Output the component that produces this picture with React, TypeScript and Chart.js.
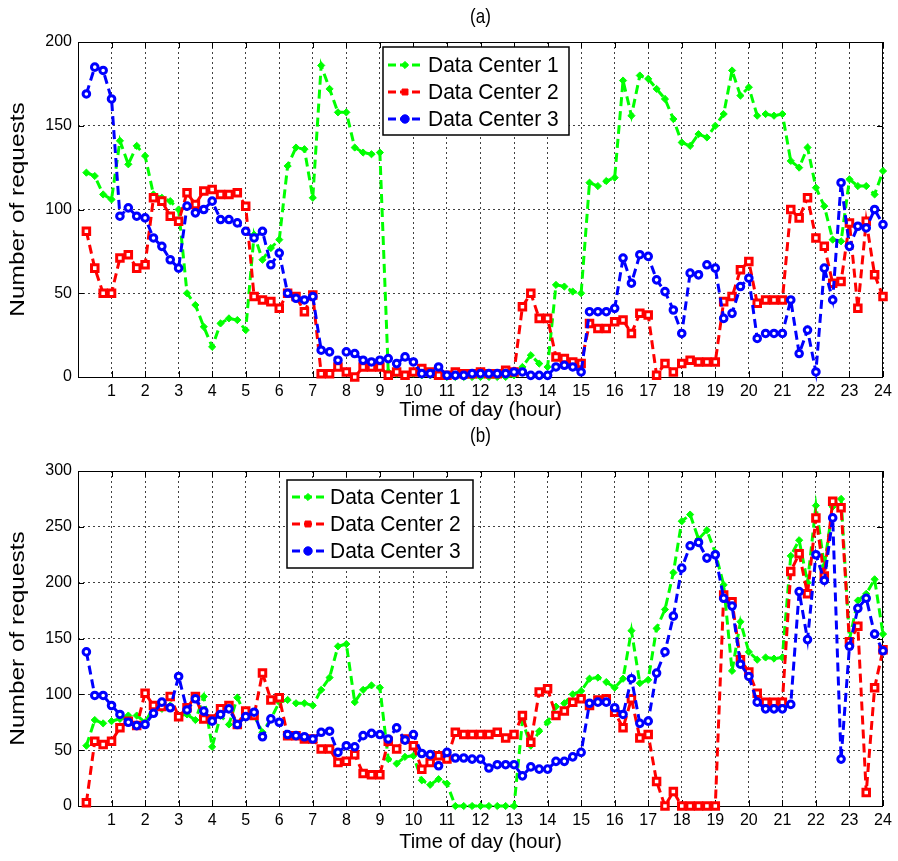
import React, { useEffect, useRef } from 'react';
import { Chart, registerables } from 'chart.js';
import { drawPoint } from 'chart.js/helpers';

Chart.register(...registerables);

// Sample times (hour of day), every 15 minutes
const TIMES = [
  0.25, 0.5, 0.75, 1, 1.25, 1.5, 1.75, 2, 2.25, 2.5, 2.75, 3,
  3.25, 3.5, 3.75, 4, 4.25, 4.5, 4.75, 5, 5.25, 5.5, 5.75, 6,
  6.25, 6.5, 6.75, 7, 7.25, 7.5, 7.75, 8, 8.25, 8.5, 8.75, 9,
  9.25, 9.5, 9.75, 10, 10.25, 10.5, 10.75, 11, 11.25, 11.5, 11.75, 12,
  12.25, 12.5, 12.75, 13, 13.25, 13.5, 13.75, 14, 14.25, 14.5, 14.75, 15,
  15.25, 15.5, 15.75, 16, 16.25, 16.5, 16.75, 17, 17.25, 17.5, 17.75, 18,
  18.25, 18.5, 18.75, 19, 19.25, 19.5, 19.75, 20, 20.25, 20.5, 20.75, 21,
  21.25, 21.5, 21.75, 22, 22.25, 22.5, 22.75, 23, 23.25, 23.5, 23.75, 24,
];

const SERIES_LABELS = ['Data Center 1', 'Data Center 2', 'Data Center 3'];
const X_TITLE = 'Time of day (hour)';
const Y_TITLE = 'Number of requests';

// (a)
const A_DC1 = [
  122, 120, 109, 106, 141, 127, 138, 132, 109, 107, 105, 100,
  50, 43, 30, 18, 32, 35, 34, 28, 85, 70, 77, 82,
  126, 137, 136, 107, 186, 172, 158, 158, 137, 134, 133, 134,
  3, 2, 1, 2, 1, 1, 1, 0, 0, 0, 0, 0,
  0, 0, 0, 1, 6, 13, 8, 6, 55, 54, 51, 50,
  116, 114, 117, 119, 177, 156, 180, 178, 172, 166, 154, 140,
  138, 145, 143, 150, 157, 183, 168, 173, 156, 157, 156, 157,
  129, 125, 137, 113, 102, 82, 81, 118, 114, 114, 109, 123,
];
const A_DC2 = [
  87, 65, 50, 50, 71, 73, 65, 67, 107, 105, 96, 93,
  110, 103, 111, 112, 109, 109, 110, 102, 48, 46, 45, 41,
  50, 48, 39, 49, 2, 2, 6, 3, 0, 6, 6, 6,
  1, 3, 1, 3, 5, 3, 1, 1, 3, 2, 2, 3,
  2, 2, 4, 3, 42, 50, 35, 35, 12, 11, 9, 8,
  32, 29, 29, 33, 34, 26, 38, 37, 1, 8, 3, 8,
  10, 9, 9, 9, 45, 48, 64, 69, 44, 46, 46, 46,
  100, 95, 107, 83, 78, 56, 57, 92, 41, 93, 61, 48,
];
const A_DC3 = [
  169, 185, 183, 166, 96, 101, 96, 95, 83, 78, 70, 65,
  102, 98, 100, 105, 94, 94, 92, 87, 83, 87, 67, 74,
  50, 47, 46, 48, 16, 15, 10, 15, 14, 10, 9, 10,
  11, 8, 12, 9, 2, 2, 6, 1, 1, 1, 2, 2,
  2, 2, 2, 3, 3, 1, 1, 1, 6, 7, 6, 3,
  39, 39, 39, 41, 71, 56, 73, 72, 58, 51, 40, 26,
  62, 61, 67, 65, 35, 38, 54, 59, 23, 26, 26, 26,
  46, 14, 28, 3, 65, 46, 116, 78, 90, 89, 100, 91,
];

// (b)
const B_DC1 = [
  54, 77, 74, 76, 78, 81, 81, 75, 88, 87, 90, 81,
  82, 77, 98, 53, 81, 73, 97, 81, 81, 66, 78, 93,
  95, 92, 92, 90, 104, 115, 143, 145, 93, 104, 108, 106,
  42, 38, 44, 45, 23, 19, 24, 20, 0, 0, 0, 0,
  0, 0, 0, 0, 76, 54, 67, 75, 89, 92, 100, 103,
  114, 115, 111, 106, 114, 157, 110, 113, 159, 176, 209, 255,
  261, 239, 247, 227, 198, 121, 165, 138, 131, 133, 132, 133,
  224, 238, 200, 269, 215, 268, 275, 149, 184, 190, 203, 154,
];
const B_DC2 = [
  3, 58, 55, 58, 70, 76, 72, 101, 90, 89, 98, 80,
  88, 98, 78, 78, 87, 90, 73, 85, 81, 119, 95, 97,
  63, 63, 60, 60, 51, 51, 39, 40, 46, 29, 28, 28,
  58, 51, 60, 54, 33, 39, 45, 42, 66, 64, 64, 64,
  64, 66, 61, 64, 81, 57, 102, 105, 81, 85, 93, 96,
  90, 95, 96, 84, 70, 96, 61, 64, 22, 0, 13, 0,
  0, 0, 0, 0, 189, 183, 131, 120, 101, 93, 93, 93,
  210, 226, 190, 258, 206, 273, 267, 147, 161, 12, 106, 140,
];
const B_DC3 = [
  138, 99, 99, 90, 82, 75, 72, 73, 83, 93, 88, 116,
  86, 96, 85, 76, 82, 87, 73, 80, 84, 62, 78, 75,
  64, 63, 62, 60, 66, 67, 48, 54, 53, 63, 65, 64,
  60, 70, 59, 64, 47, 46, 36, 48, 43, 43, 42, 42,
  34, 37, 37, 37, 27, 35, 33, 33, 40, 40, 44, 48,
  92, 93, 93, 88, 82, 114, 74, 76, 119, 138, 170, 213,
  233, 236, 222, 225, 186, 179, 127, 116, 93, 87, 87, 87,
  91, 192, 149, 225, 202, 258, 42, 143, 177, 186, 154, 139,
];

const FONT = '"Liberation Sans", Arial, Helvetica, sans-serif';
const COLORS = ['#00ff00', '#ff0000', '#0000ff'];
const POINT_STYLES = ['rectRot', 'rect', 'circle'];
const POINT_RADII = [3.6, 4.6, 3.3];
const POINT_BORDER = [1, 3, 3];
const POINT_FILL = ['#00ff00', '#ffffff', '#ffffff'];
const DASH = [9, 5];

function makeDatasets(series: number[][]) {
  return series.map((vals, i) => ({
    label: SERIES_LABELS[i],
    data: TIMES.map((t, k) => ({ x: t, y: vals[k] })),
    borderColor: COLORS[i],
    backgroundColor: POINT_FILL[i],
    pointBackgroundColor: POINT_FILL[i],
    pointBorderColor: COLORS[i],
    pointStyle: POINT_STYLES[i],
    pointRadius: POINT_RADII[i],
    pointBorderWidth: POINT_BORDER[i],
    borderWidth: 3,
    borderDash: DASH,
    tension: 0,
    fill: false,
    clip: false,
    order: 2 - i,
  }));
}

const framePlugin = {
  id: 'frame',
  beforeDatasetsDraw(chart: any) {
    const { ctx, chartArea } = chart;
    const { left, right, top, bottom } = chartArea;
    const xs = chart.scales.x;
    const ys = chart.scales.y;
    ctx.save();
    ctx.setLineDash([]);
    ctx.strokeStyle = '#000';
    ctx.lineWidth = 1;
    ctx.strokeRect(left + 0.5, top + 0.5, right - left - 1, bottom - top);
    ctx.beginPath();
    xs.ticks.forEach((t: any) => {
      const px = Math.round(xs.getPixelForValue(t.value)) + 0.5;
      ctx.moveTo(px, bottom);
      ctx.lineTo(px, bottom - 6);
      ctx.moveTo(px, top);
      ctx.lineTo(px, top + 6);
    });
    ys.ticks.forEach((t: any) => {
      const py = Math.round(ys.getPixelForValue(t.value)) + 0.5;
      ctx.moveTo(left, py);
      ctx.lineTo(left + 6, py);
      ctx.moveTo(right, py);
      ctx.lineTo(right - 6, py);
    });
    ctx.stroke();
    ctx.restore();
  },
  afterDraw(chart: any, _args: any, opts: any) {
    const { ctx, chartArea } = chart;
    // panel title, centred over the plot area
    ctx.save();
    ctx.fillStyle = '#000';
    ctx.font = `17px ${FONT}`;
    ctx.textAlign = 'center';
    ctx.textBaseline = 'middle';
    ctx.translate((chartArea.left + chartArea.right) / 2, opts.titleY);
    ctx.scale(1, 1.15);
    ctx.fillText(opts.title, 0, 0);
    ctx.restore();
    // y-axis title (slightly stretched along its length, like the source figure)
    const cy = (chartArea.top + chartArea.bottom) / 2;
    ctx.save();
    ctx.translate(18, cy);
    ctx.rotate(-Math.PI / 2);
    ctx.scale(1.22, 1);
    ctx.fillStyle = '#000';
    ctx.font = `20px ${FONT}`;
    ctx.textAlign = 'center';
    ctx.textBaseline = 'middle';
    ctx.fillText(Y_TITLE, 0, 0);
    ctx.restore();
  },
};

const boxLegendPlugin = {
  id: 'boxLegend',
  afterDraw(chart: any, _args: any, opts: any) {
    const { ctx } = chart;
    const { x, y, w, h, first, step, lineLen, textGap } = opts;
    ctx.save();
    ctx.setLineDash([]);
    ctx.fillStyle = '#ffffff';
    ctx.fillRect(x, y, w, h);
    ctx.strokeStyle = '#000';
    ctx.lineWidth = 1.5;
    ctx.strokeRect(x, y, w, h);
    chart.data.datasets.forEach((ds: any, i: number) => {
      const cy = y + first + step * i;
      const x0 = x + 5;
      ctx.save();
      ctx.strokeStyle = ds.borderColor;
      ctx.lineWidth = 3;
      ctx.setLineDash([8, 4]);
      ctx.beginPath();
      ctx.moveTo(x0, cy);
      ctx.lineTo(x0 + lineLen, cy);
      ctx.stroke();
      ctx.setLineDash([]);
      ctx.fillStyle = ds.borderColor;
      ctx.strokeStyle = ds.borderColor;
      ctx.lineWidth = 1;
      drawPoint(ctx, { pointStyle: ds.pointStyle, radius: i === 0 ? 3.6 : 4.2, rotation: 0, borderWidth: 1 }, x0 + lineLen / 2, cy);
      ctx.restore();
      ctx.save();
      ctx.fillStyle = '#000';
      ctx.font = `20px ${FONT}`;
      ctx.textBaseline = 'middle';
      ctx.textAlign = 'left';
      ctx.translate(x0 + lineLen + textGap, cy + 1);
      ctx.scale(1.05, 1.1);
      ctx.fillText(ds.label, 0, 0);
      ctx.restore();
    });
    ctx.restore();
  },
};

function makeConfig(
  title: string,
  series: number[][],
  yMax: number,
  topPad: number,
  titleY: number,
  xAxisHeight: number,
  xTitlePadBottom: number,
  legend: any
): any {
  return {
    type: 'line',
    data: { datasets: makeDatasets(series) },
    plugins: [framePlugin, boxLegendPlugin],
    options: {
      animation: false,
      responsive: false,
      maintainAspectRatio: false,
      devicePixelRatio: 1,
      layout: { padding: { left: 0, right: 15, top: topPad, bottom: 0 } },
      plugins: {
        legend: { display: false },
        tooltip: { enabled: false },
        title: { display: false },
        frame: { title, titleY },
        boxLegend: legend,
      },
      scales: {
        x: {
          type: 'linear',
          min: 0,
          max: 24,
          afterFit: (s: any) => {
            s.height = xAxisHeight;
          },
          ticks: {
            stepSize: 1,
            autoSkip: false,
            maxRotation: 0,
            color: '#000',
            padding: 5,
            font: { size: 16, family: FONT },
            callback: (v: any) => (v === 0 ? '' : String(v)),
          },
          grid: { color: 'rgba(0,0,0,0.75)', lineWidth: 1, drawTicks: false },
          border: { display: false, dash: [2, 3] },
          title: {
            display: true,
            text: X_TITLE,
            color: '#000',
            font: { size: 20, family: FONT },
            padding: { top: 0, bottom: xTitlePadBottom },
          },
        },
        y: {
          type: 'linear',
          min: 0,
          max: yMax,
          afterFit: (s: any) => {
            s.width = 78;
          },
          ticks: {
            stepSize: 50,
            color: '#000',
            padding: 6,
            font: { size: 16, family: FONT },
          },
          grid: { color: 'rgba(0,0,0,0.75)', lineWidth: 1, drawTicks: false },
          border: { display: false, dash: [2, 3] },
          title: { display: false },
        },
      },
    },
  };
}

export default function App() {
  const refA = useRef<HTMLCanvasElement>(null);
  const refB = useRef<HTMLCanvasElement>(null);

  useEffect(() => {
    Chart.defaults.font.family = FONT;
    Chart.defaults.color = '#000';
    const chartA = new Chart(
      refA.current as HTMLCanvasElement,
      makeConfig(
        '(a)',
        [A_DC1, A_DC2, A_DC3],
        200,
        42,
        18,
        45,
        0,
        { x: 383, y: 47, w: 186, h: 88, first: 18, step: 27, lineLen: 34, textGap: 6 }
      )
    );
    const chartB = new Chart(
      refB.current as HTMLCanvasElement,
      makeConfig(
        '(b)',
        [B_DC1, B_DC2, B_DC3],
        300,
        49,
        15,
        55,
        7,
        { x: 287, y: 58, w: 186, h: 88, first: 17, step: 27, lineLen: 32, textGap: 6 }
      )
    );
    return () => {
      chartA.destroy();
      chartB.destroy();
    };
  }, []);

  return (
    <div style={{ position: 'absolute', left: 0, top: 0, width: 898, height: 861, background: '#fff' }}>
      <canvas ref={refA} width={898} height={422} style={{ position: 'absolute', left: 0, top: 0, display: 'block' }} />
      <canvas ref={refB} width={898} height={439} style={{ position: 'absolute', left: 0, top: 422, display: 'block' }} />
    </div>
  );
}
